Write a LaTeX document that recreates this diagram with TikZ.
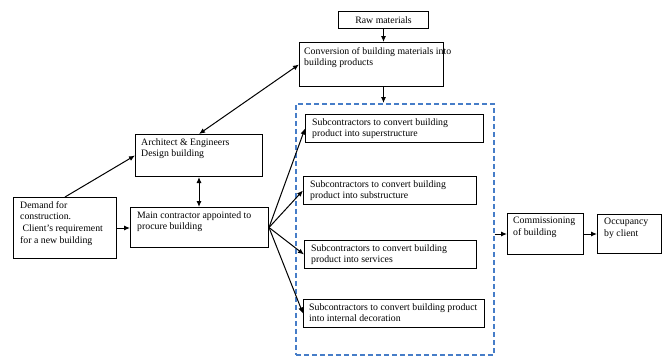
\documentclass[tikz,border=0pt]{standalone}
\usepackage{fontspec}
\setmainfont{Liberation Serif}
\usetikzlibrary{arrows.meta}
\definecolor{grpblue}{RGB}{70,125,200}
\tikzset{
  box/.style={draw=black, line width=1pt, inner sep=0pt, anchor=north west, fill=white},
  txt/.style={inner sep=0pt, align=left, anchor=north west, font=\fontsize{9.8}{11.8}\selectfont},
  grp/.style={draw=grpblue, line width=1.6pt, dash pattern=on 5pt off 3pt, inner sep=0pt, anchor=north west},
  arr/.style={line width=1pt, -{Latex[length=6pt,width=5pt]}},
  darr/.style={line width=1pt, {Latex[length=6pt,width=5pt]}-{Latex[length=6pt,width=5pt]}}
}
\begin{document}
\begin{tikzpicture}[x=1pt,y=-1pt]
\useasboundingbox (0,0) rectangle (665,356);
% group
\node[grp, minimum width=198pt, minimum height=251pt] (grp) at (295,103) {};
% boxes
\node[box, minimum width=90pt, minimum height=17pt] (raw) at (338,11) {};
\node[txt, anchor=center] (rawt) at (raw.center) {Raw materials};
\node[box, minimum width=144pt, minimum height=44pt] (conv) at (299,42) {};
\node[txt] (convt) at (304,47) {Conversion of building materials into\\building products};
\node[box, minimum width=127pt, minimum height=42pt] (arch) at (135,134) {};
\node[txt] (archt) at (141,138) {Architect \& Engineers\\Design building};
\node[box, minimum width=138pt, minimum height=40pt] (main) at (130,207) {};
\node[txt] (maint) at (137,211) {Main contractor appointed to\\procure building};
\node[box, minimum width=103pt, minimum height=61pt] (demand) at (13,197) {};
\node[txt] (demandt) at (20,201) {Demand for\\construction.\\\ Client’s requirement\\for a new building};
\node[box, minimum width=178pt, minimum height=28pt] (sub1) at (305,114) {};
\node[txt] (sub1t) at (312,118) {Subcontractors to convert building\\product into superstructure};
\node[box, minimum width=173pt, minimum height=28pt] (sub2) at (303,176) {};
\node[txt] (sub2t) at (310,180) {Subcontractors to convert building\\product into substructure};
\node[box, minimum width=172pt, minimum height=28pt] (sub3) at (304,240) {};
\node[txt] (sub3t) at (311,244) {Subcontractors to convert building\\product into services};
\node[box, minimum width=181pt, minimum height=28pt] (sub4) at (303,299) {};
\node[txt] (sub4t) at (309,303) {Subcontractors to convert building product\\into internal decoration};
\node[box, minimum width=76pt, minimum height=41pt] (comm) at (507,213) {};
\node[txt] (commt) at (513,217) {Commissioning\\of building};
\node[box, minimum width=64pt, minimum height=39pt] (occ) at (597,214) {};
\node[txt] (occt) at (604,218) {Occupancy\\by client};
% arrows
\draw[arr] (raw.south) -- (raw.south |- conv.north);
\draw[arr] (conv.south -| raw.south) -- (raw.south |- grp.north);
\draw[arr] (demand.north) -- (arch.west);
\draw[darr] (arch.north) -- (conv.west);
\draw[darr] (arch.south) -- (arch.south |- main.north);
\draw[arr] (demand.east) -- (demand.east -| main.west);
\draw[arr] (main.east) -- (sub1.west);
\draw[arr] (main.east) -- (sub2.west);
\draw[arr] (main.east) -- (sub3.west);
\draw[arr] (main.east) -- (sub4.west);
\draw[arr] (comm.west -| grp.east) -- (comm.west);
\draw[arr] (comm.east) -- (occ.west);
\end{tikzpicture}
\end{document}
